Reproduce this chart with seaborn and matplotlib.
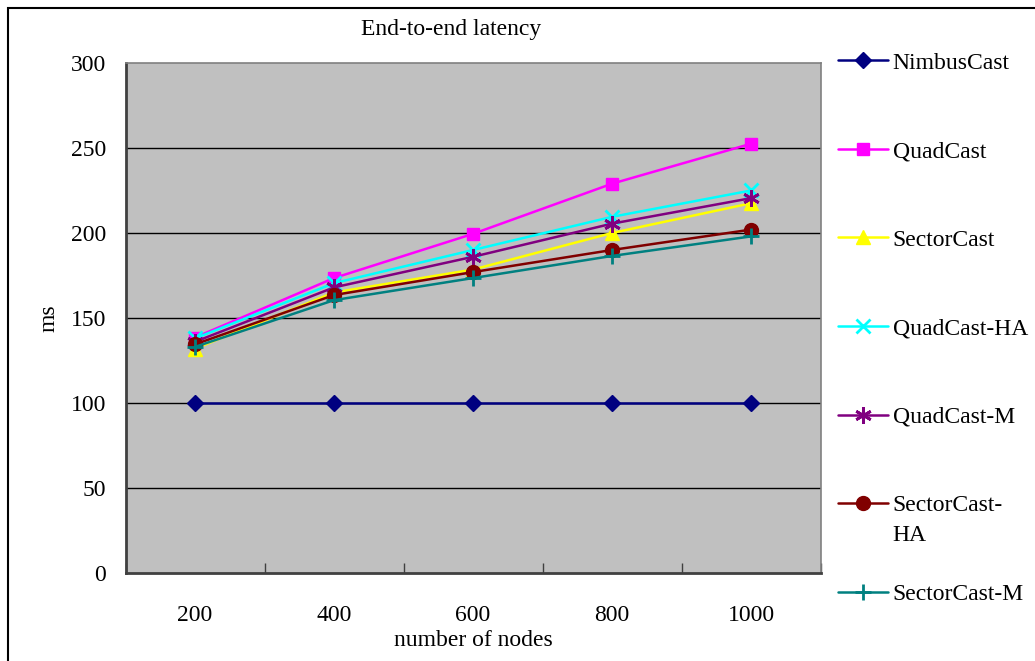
import matplotlib
matplotlib.use("Agg")
import matplotlib.pyplot as plt
from matplotlib.patches import Rectangle
import numpy as np
import pandas as pd
import seaborn as sns

# Latency (ms) per number of nodes for each protocol
nodes = [200, 400, 600, 800, 1000]
nimbus_cast = [100, 100, 100, 100, 100]
quad_cast = [138.5, 173.5, 199.5, 229, 252.5]
sector_cast = [132, 165, 178.5, 200, 217.5]
quad_cast_ha = [138, 170.5, 190, 209.5, 225]
quad_cast_m = [136, 168, 186, 205.5, 220.5]
sector_cast_ha = [134.5, 163.5, 177, 190, 202]
sector_cast_m = [133, 160.5, 173.5, 186.5, 198]

series_names = ["NimbusCast", "QuadCast", "SectorCast", "QuadCast-HA",
                "QuadCast-M", "SectorCast-HA", "SectorCast-M"]
series_values = [nimbus_cast, quad_cast, sector_cast, quad_cast_ha,
                 quad_cast_m, sector_cast_ha, sector_cast_m]

colors = {"NimbusCast": "#000080", "QuadCast": "#FF00FF", "SectorCast": "#FFFF00",
          "QuadCast-HA": "#00FFFF", "QuadCast-M": "#800080",
          "SectorCast-HA": "#800000", "SectorCast-M": "#008080"}
markers = {"NimbusCast": "D", "QuadCast": "s", "SectorCast": "^",
           "QuadCast-HA": "x", "QuadCast-M": (6, 2, 0),
           "SectorCast-HA": "o", "SectorCast-M": "+"}
marker_sizes = {"NimbusCast": 8, "QuadCast": 9, "SectorCast": 10,
                "QuadCast-HA": 10, "QuadCast-M": 12,
                "SectorCast-HA": 10, "SectorCast-M": 11}

FS = 17

df = pd.DataFrame(
    [(n, name, v) for name, vals in zip(series_names, series_values)
     for n, v in zip(nodes, vals)],
    columns=["nodes", "protocol", "latency"],
)

sns.set_theme(style="white")
plt.rcParams["font.family"] = ["Liberation Serif", "DejaVu Serif"]
plt.rcParams["text.color"] = "black"

fig = plt.figure(figsize=(10.35, 6.61), dpi=100)
ax = fig.add_axes([125.5 / 1035, 1 - 573 / 661, 695 / 1035, 510 / 661])
ax.set_facecolor("#C0C0C0")

# Horizontal gridlines behind the data
for yv in [50, 100, 150, 200, 250]:
    ax.axhline(yv, color="black", lw=1.0, zorder=0.5)

handles = []
for name in series_names:
    sub = df[df["protocol"] == name]
    thin = name in ("QuadCast-HA", "QuadCast-M", "SectorCast-M")
    sns.lineplot(data=sub, x="nodes", y="latency", color=colors[name],
                 marker=markers[name], markersize=marker_sizes[name],
                 markerfacecolor=colors[name], markeredgecolor=colors[name],
                 markeredgewidth=2 if thin else 1, lw=1.8, legend=False,
                 ax=ax, zorder=2)
    handles.append(ax.get_lines()[-1])

ax.set_xlim(100, 1100)
ax.set_ylim(0, 300)
ax.set_xticks(nodes)
ax.set_xticks([100, 300, 500, 700, 900, 1100], minor=True)
ax.set_yticks([0, 50, 100, 150, 200, 250, 300])
ax.tick_params(axis="x", which="major", length=0, pad=23, labelsize=FS,
               colors="black")
ax.tick_params(axis="x", which="minor", direction="in", length=7, width=1,
               color="#404040", bottom=True)
ax.tick_params(axis="y", length=0, pad=14, labelsize=FS, colors="black")

for side in ("left", "bottom"):
    ax.spines[side].set_color("#404040")
    ax.spines[side].set_linewidth(2)
for side in ("top", "right"):
    ax.spines[side].set_color("#808080")
    ax.spines[side].set_linewidth(1.2)

ax.set_xlabel("number of nodes", fontsize=FS, labelpad=3, color="black")
ax.set_ylabel("ms", fontsize=FS, labelpad=8, color="black")
ax.set_title("End-to-end latency", fontsize=FS, pad=20, color="black",
             x=(451 - 125.5) / 695)

# Legend: the long SectorCast-HA name wraps onto a second line
leg_labels = ["NimbusCast", "QuadCast", "SectorCast", "QuadCast-HA",
              "QuadCast-M", "SectorCast-", "SectorCast-M"]
leg = ax.legend(handles, leg_labels, loc="upper left",
                bbox_to_anchor=(838 / 1035, 1 - 52 / 661),
                bbox_transform=fig.transFigure, frameon=False,
                fontsize=FS, handlelength=2.1, handletextpad=0.22,
                labelspacing=2.84, borderpad=0, borderaxespad=0)

fig.canvas.draw()
wrap_text = leg.get_texts()[5]
bb = wrap_text.get_window_extent()
x0, y0 = fig.transFigure.inverted().transform((bb.x0, bb.y0))
fig.text(x0, y0 - 30 / 661, "HA", fontsize=FS, ha="left", va="bottom",
         color="black")

# Outer chart frame
fig.patches.append(Rectangle((8 / 1035, -0.2), 1.2, 1.2 - 7.5 / 661,
                             transform=fig.transFigure, fill=False,
                             edgecolor="black", lw=1.5, zorder=10))

fig.savefig("out.png", dpi=100)
